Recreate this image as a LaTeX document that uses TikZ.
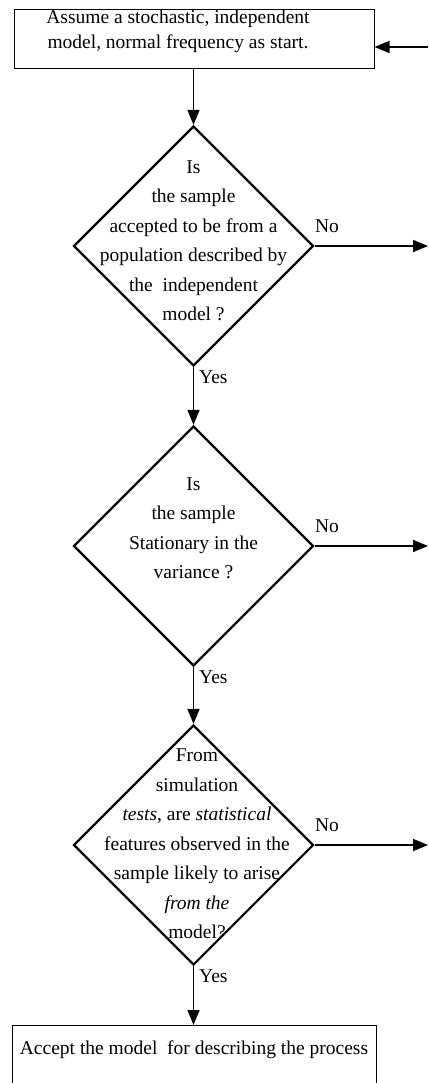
\documentclass[tikz,border=0pt]{standalone}
\usepackage{fontspec}
\setmainfont{Liberation Serif}
\usetikzlibrary{shapes.geometric, arrows.meta}

\begin{document}
\begin{tikzpicture}[x=1pt, y=-1pt,
        box/.style={draw, line width=1pt, inner sep=0pt},
        decision/.style={diamond, draw, line width=2.2pt, inner sep=0pt,
            minimum width=240pt, minimum height=240pt},
        words/.style={align=center, inner sep=0pt, font=\fontsize{19.5}{29.5}\selectfont},
        flow/.style={line width=1.6pt, -{Triangle[length=15pt, width=12pt]}},
        tag/.style={inner sep=0pt, font=\fontsize{19.5}{22}\selectfont}]
    \begin{scope}
        \clip (0, 0) rectangle (428, 1083);
        \fill[white] (0, 0) rectangle (428, 1083);

        \node[box, minimum width=360pt, minimum height=59pt] (start) at (194, 39.5) {};
        \node[words, font=\fontsize{19.5}{25}\selectfont] (starttext) at (178, 31)
            {Assume a stochastic, independent\\model, normal frequency as start.};
        \coordinate (back) at (428, 47);

        \node[decision] (d1) at (193.5, 246) {};
        \node[words] (d1text) at (193.5, 241)
            {Is\\the sample\\accepted to be from a\\population described by\\the~~independent\\model ?};
        \node[decision] (d2) at (193.5, 546) {};
        \node[words] (d2text) at (193.5, 528)
            {Is\\the sample\\Stationary in the\\variance ?};
        \node[decision] (d3) at (193.5, 845) {};
        \node[words] (d3text) at (197, 844)
            {From\\simulation\\\textit{tests}, are \textit{statistical}\\features observed in the\\sample likely to arise\\\textit{from the}\\model?};

        \node[box, minimum width=364pt, minimum height=90pt, anchor=north] (accept) at (194, 1025) {};
        \node[words] (accepttext) at (194, 1050) {Accept the model~~for describing the process};

        \foreach \i/\y in {1/246, 2/546, 3/845} {
            \coordinate (out\i) at (428, \y);
            \draw[flow] (d\i.east) -- (out\i);
            \node[tag] (no\i) at (327, \y - 19.5) {No};
            \node[tag, anchor=west] (yes\i) at (199, \y + 131) {Yes};
        }

        \draw[flow] (back) -- (back -| start.east);
        \draw[flow] (start.south -| d1.north) -- (d1.north);
        \draw[flow] (d1.south) -- (d2.north);
        \draw[flow] (d2.south) -- (d3.north);
        \draw[flow] (d3.south) -- (accept.north -| d3.south);
    \end{scope}
\end{tikzpicture}
\end{document}
